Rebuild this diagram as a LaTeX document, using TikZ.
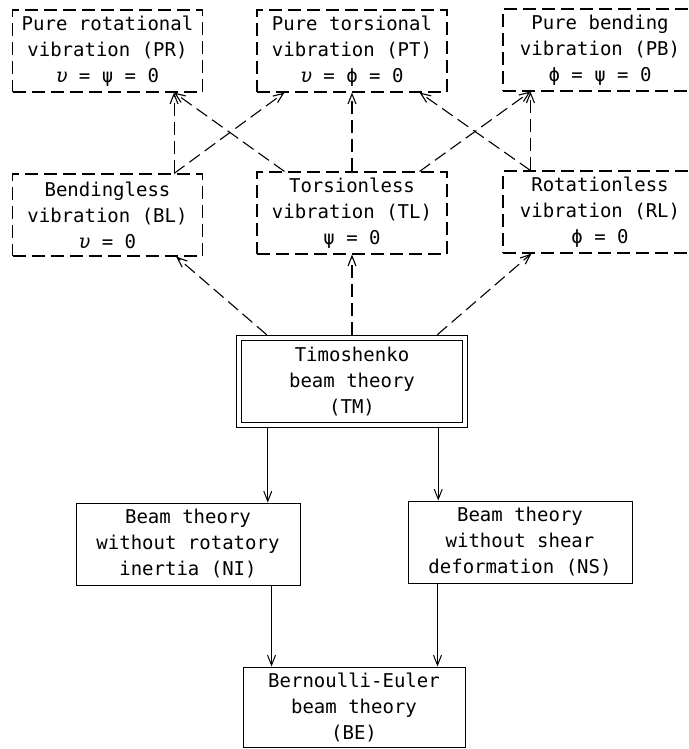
\documentclass[tikz,border=0pt]{standalone}
\usepackage{fontspec}
\setmonofont{DejaVu Sans Mono}
\usepackage{tikz}
\usetikzlibrary{arrows.meta,calc,positioning}

\begin{document}
\begin{tikzpicture}[x=1pt,y=-1pt]

           \tikzstyle{every node}=[font=\ttfamily\fontsize{19}{26}\selectfont, align=center, inner sep=0pt]
           \tikzstyle{mode}=[draw, dash pattern=on 13pt off 6pt, line width=1.1pt, minimum width=190pt, minimum height=82pt]
           \tikzstyle{theory}=[draw, line width=1pt, minimum width=224pt, minimum height=82pt]
           \tikzstyle{dashlink}=[draw, dash pattern=on 13pt off 6pt, line width=1.1pt, -{Straight Barb[length=10pt,width=8pt]}]
           \tikzstyle{link}=[draw, line width=1pt, -{Straight Barb[length=10pt,width=8pt]}]

    \useasboundingbox (0,0) rectangle (688,749);
    \clip (0,0) rectangle (688,749);

    % pure modes
    \node[mode] (PR) at (107.5,51) {Pure rotational\\vibration (PR)\\\textit{υ} = ψ = 0};
    \node[mode] (PT) at (352,51) {Pure torsional\\vibration (PT)\\\textit{υ} = ϕ = 0};
    \node[mode, minimum width=194pt] (PB) at (600,50) {Pure bending\\vibration (PB)\\ϕ = ψ = 0};
    % reduced modes
    \node[mode] (BL) at (107.5,215) {Bendingless\\vibration (BL)\\\textit{υ} = 0};
    \node[mode] (TL) at (352,213) {Torsionless\\vibration (TL)\\ψ = 0};
    \node[mode, minimum width=194pt] (RL) at (600,212) {Rotationless\\vibration (RL)\\ϕ = 0};
    % beam theories
    \node[draw, double, double distance=4.5pt, line width=1pt, minimum width=226pt, minimum height=87pt, outer sep=3.25pt] (TM) at (352,381.5) {Timoshenko\\beam theory\\(TM)};
    \node[theory] (NI) at (188,544) {Beam theory\\without rotatory\\inertia (NI)};
    \node[theory] (NS) at (520,542) {Beam theory\\without shear\\deformation (NS)};
    \node[theory, minimum width=222pt, minimum height=80pt] (BE) at (354,707) {Bernoulli-Euler\\beam theory\\(BE)};

    \path ($(TM.north west)+(31,0)$) edge [dashlink] ($(BL.south east)+(-27,0)$);
    \path (TM.north) edge [dashlink] (TL.south);
    \path ($(TM.north east)+(-31,0)$) edge [dashlink] ($(RL.south west)+(29,0)$);

    \path ($(BL.north east)+(-29,0)$) edge [dashlink] ($(PR.south east)+(-29,0)$);
    \path ($(BL.north east)+(-29,0)$) edge [dashlink] ($(PT.south west)+(28,0)$);
    \path ($(TL.north west)+(28,0)$) edge [dashlink] ($(PR.south east)+(-29,0)$);
    \path (TL.north) edge [dashlink] (PT.south);
    \path ($(TL.north east)+(-28,0)$) edge [dashlink] ($(PB.south west)+(28,0)$);
    \path ($(RL.north west)+(28,0)$) edge [dashlink] ($(PT.south east)+(-28,0)$);
    \path ($(RL.north west)+(28,0)$) edge [dashlink] ($(PB.south west)+(28,0)$);

    \coordinate (tmL) at ($(TM.south west)+(32,0)$);
    \coordinate (tmR) at ($(TM.south east)+(-30,0)$);
    \coordinate (beL) at ($(BE.north west)+(29,0)$);
    \coordinate (beR) at ($(BE.north east)+(-28,0)$);

    \path (tmL) edge [link] (tmL |- NI.north);
    \path (tmR) edge [link] (tmR |- NS.north);
    \path (NI.south -| beL) edge [link] (beL);
    \path (NS.south -| beR) edge [link] (beR);

     \end{tikzpicture}
\end{document}
